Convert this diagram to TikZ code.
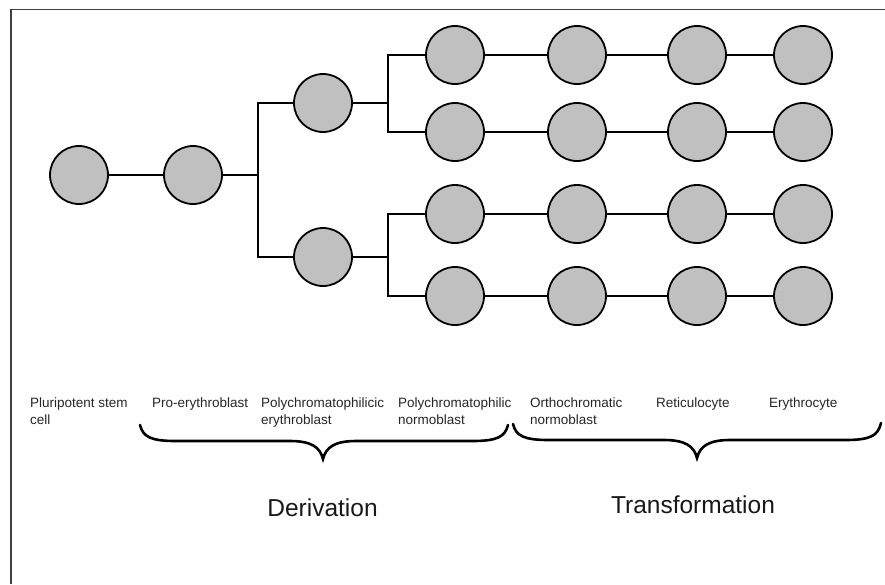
\documentclass[tikz,border=0pt]{standalone}
\usepackage{fontspec}
\setmainfont{Liberation Sans}
\begin{document}
\begin{tikzpicture}[x=1pt,y=-1pt,
  cellnode/.style={circle,draw=black,line width=1.8pt,fill=cellgray,minimum size=58pt,inner sep=0pt},
  link/.style={line width=2.4pt,black},
  lbl/.style={anchor=base west,inner sep=0pt,font=\fontsize{13.5}{17}\selectfont,text=black!85},
  ttl/.style={anchor=base,inner sep=0pt,font=\fontsize{24.5}{28}\selectfont,text=black!90},
  bracepath/.style={line width=2.6pt,black,line cap=round}
]
\definecolor{cellgray}{RGB}{192,192,192}
\useasboundingbox (0,0) rectangle (885,584);
\fill[white] (0,0) rectangle (885,584);
% frame
\draw[line width=1.6pt,black!75] (11,584) -- (11,9.5) -- (885,9.5);

% cells
\node[cellnode] (s) at (79,175) {};
\node[cellnode] (p) at (193,175) {};
\node[cellnode] (u) at (323,103) {};
\node[cellnode] (l) at (323,257) {};
\foreach \r/\y in {1/55,2/132,3/214,4/296}{
  \node[cellnode] (a\r) at (455,\y) {};
  \node[cellnode] (b\r) at (577,\y) {};
  \node[cellnode] (c\r) at (697,\y) {};
  \node[cellnode] (d\r) at (803,\y) {};
}
% junction coordinates
\coordinate (j0) at (258,175);
\coordinate (j0u) at (258,103);
\coordinate (j0l) at (258,257);
\coordinate (ju) at (388,103);
\coordinate (ju1) at (388,55);
\coordinate (ju2) at (388,132);
\coordinate (jl) at (388,257);
\coordinate (jl3) at (388,214);
\coordinate (jl4) at (388,296);

\draw[link] (s) -- (p);
\draw[link] (p) -- (j0);
\draw[link,line cap=rect] (j0u) -- (j0l);
\draw[link] (j0u) -- (u);
\draw[link] (j0l) -- (l);
\draw[link] (u) -- (ju);
\draw[link] (l) -- (jl);
\draw[link,line cap=rect] (ju1) -- (ju2);
\draw[link,line cap=rect] (jl3) -- (jl4);
\draw[link] (ju1) -- (a1);
\draw[link] (ju2) -- (a2);
\draw[link] (jl3) -- (a3);
\draw[link] (jl4) -- (a4);
\foreach \r in {1,2,3,4}{
  \draw[link] (a\r) -- (b\r);
  \draw[link] (b\r) -- (c\r);
  \draw[link] (c\r) -- (d\r);
}

% labels
\node[lbl] (t1) at (30,407) {\begin{tabular}[t]{@{}l@{}}Pluripotent stem\\cell\end{tabular}};
\node[lbl] (t2) at (152,407) {Pro-erythroblast};
\node[lbl] (t3) at (261,407) {\begin{tabular}[t]{@{}l@{}}Polychromatophilicic\\erythroblast\end{tabular}};
\node[lbl] (t4) at (398,407) {\begin{tabular}[t]{@{}l@{}}Polychromatophilic\\normoblast\end{tabular}};
\node[lbl] (t5) at (530,407) {\begin{tabular}[t]{@{}l@{}}Orthochromatic\\normoblast\end{tabular}};
\node[lbl] (t6) at (656,407) {Reticulocyte};
\node[lbl] (t7) at (769,407) {Erythrocyte};

% braces
\draw[bracepath] (140,425) .. controls (143,437) and (151,441) .. (176,441)
  -- (290,441) .. controls (311,441) and (320,447) .. (323,459)
  .. controls (326,447) and (335,441) .. (356,441)
  -- (472,441) .. controls (497,441) and (505,437) .. (508,425);
\draw[bracepath] (513,424) .. controls (516,436) and (524,440) .. (549,440)
  -- (664,440) .. controls (685,440) and (694,446) .. (697,458)
  .. controls (700,446) and (709,440) .. (730,440)
  -- (845,440) .. controls (870,440) and (878,436) .. (881,423);

% titles
\node[ttl] (dv) at (322.5,516) {Derivation};
\node[ttl] (tf) at (693,513) {Transformation};
\end{tikzpicture}
\end{document}
